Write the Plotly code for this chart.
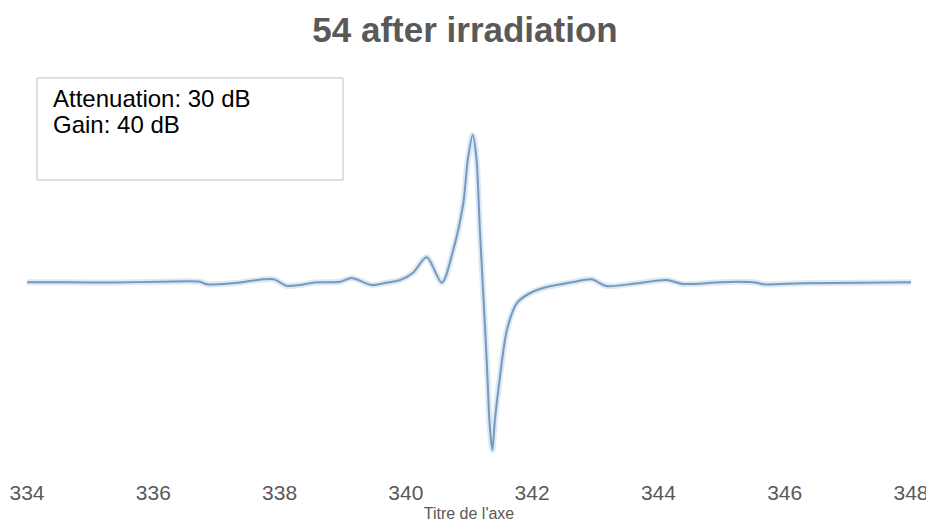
import plotly.graph_objects as go

# Magnetic field (x) and signal intensity (arbitrary units, y)
field = [334.00, 334.63, 335.40, 336.11, 336.74, 336.85, 337.26, 337.90, 338.11, 338.32,
         338.53, 338.96, 339.14, 339.46, 339.67, 339.91, 340.11, 340.33, 340.57, 340.75,
         340.91, 340.98, 341.06, 341.12, 341.17, 341.22, 341.28, 341.33, 341.37, 341.41,
         341.49, 341.60, 341.76, 341.97, 342.23, 342.65, 342.94, 343.18, 343.66, 344.13,
         344.39, 344.90, 345.24, 345.56, 345.66, 346.29, 347.19, 348.03]
signal = [0.7, 0.7, 0.5, 1.3, 1.3, -1.3, -0.3, 3.7, -2.7, -2.0,
          0.3, 1.3, 5.0, -2.0, 0.0, 3.0, 10.0, 25.7, 0.3, 33.0,
          80.0, 123.0, 148.0, 123.0, 56.0, -4.0, -77.0, -144.0, -167.0, -137.0,
          -94.0, -47.0, -20.0, -10.0, -4.0, 1.0, 3.7, -3.0, -0.3, 3.0,
          -1.0, 0.5, 1.3, 0.3, -1.3, -0.3, 0.3, 0.7]

x_ticks = [334, 336, 338, 340, 342, 344, 346, 348]
title_text = "54 after irradiation"
x_title = "Titre de l'axe"
note_lines = ["Attenuation: 30 dB", "Gain: 40 dB"]

# The page body has an 8px margin, so the figure is drawn 8px in from the
# top-left corner of the window; all target positions are shifted by OFF.
OFF = 8
W, H = 934 - OFF, 528 - OFF
L = 27 - OFF
R = W - (911 - OFF)
T = 115 - OFF
B = H - (478 - OFF)
plot_w = W - L - R
plot_h = H - T - B


def px_to_paper_x(px):
    return (px - OFF - L) / plot_w


def px_to_paper_y(py):
    return (H - B - (py - OFF)) / plot_h


fig = go.Figure()
# soft glow under the line
fig.add_trace(go.Scatter(x=field, y=signal, mode="lines",
                         line=dict(color="rgba(175,205,235,0.45)", width=6,
                                   shape="spline", smoothing=0.8),
                         hoverinfo="skip", showlegend=False))
fig.add_trace(go.Scatter(x=field, y=signal, mode="lines",
                         line=dict(color="#7898bd", width=2,
                                   shape="spline", smoothing=0.8),
                         showlegend=False))

fig.update_layout(
    width=W, height=H,
    margin=dict(l=L, r=R, t=T, b=B, autoexpand=False),
    paper_bgcolor="white", plot_bgcolor="white",
    font=dict(family="Liberation Sans, Arial, sans-serif", color="#595959"),
    title=dict(text="<b>" + title_text + "</b>", x=(465 - OFF) / W, xanchor="center",
               y=1 - (30 - OFF) / H, yanchor="middle",
               font=dict(size=35, color="#595959")),
    xaxis=dict(range=[334, 348], tickvals=x_ticks, ticktext=[str(v) for v in x_ticks],
               showgrid=False, zeroline=False, showline=False, ticks="",
               automargin=False, ticklabeloverflow="allow",
               tickfont=dict(size=21, color="#595959"),
               title=dict(text=x_title, font=dict(size=16, color="#595959"), standoff=4)),
    yaxis=dict(range=[283 - 478, 283 - 115], showgrid=False, zeroline=False,
               showline=False, showticklabels=False, ticks="", automargin=False),
    showlegend=False,
)

# bordered text box
fig.add_shape(type="rect", xref="paper", yref="paper",
              x0=px_to_paper_x(37), x1=px_to_paper_x(343),
              y0=px_to_paper_y(180), y1=px_to_paper_y(78),
              line=dict(color="#bfbfbf", width=1), fillcolor="white", layer="above")
for i, line_text in enumerate(note_lines):
    fig.add_annotation(xref="paper", yref="paper",
                       x=px_to_paper_x(51), y=px_to_paper_y(98 + 27 * i),
                       xanchor="left", yanchor="middle", align="left", showarrow=False,
                       text=line_text,
                       font=dict(size=24, color="#000000"))

fig.write_html("out.html")
